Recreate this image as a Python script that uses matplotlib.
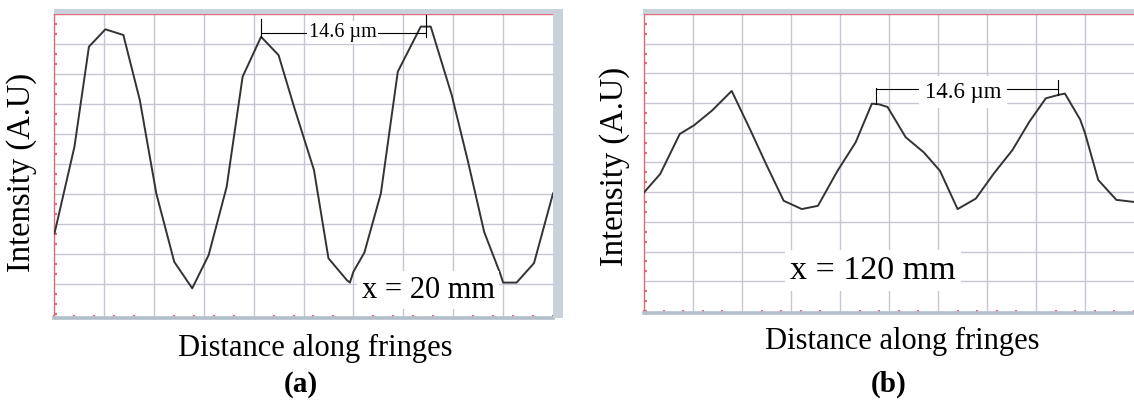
import matplotlib
matplotlib.use('Agg')
import matplotlib.pyplot as plt
from matplotlib.patches import Rectangle
from matplotlib.ticker import MultipleLocator

plt.rcParams['font.family'] = ['Liberation Serif', 'DejaVu Serif']

# ---------------- data ----------------
# Panel (a): x = 20 mm
xa = [0.01, 0.41, 0.70, 1.03, 1.39, 1.72, 2.05, 2.41, 2.77, 3.10, 3.46, 3.78,
      4.15, 4.50, 4.81, 5.21, 5.50, 5.87, 5.93, 6.00, 6.22, 6.55, 6.89, 7.35,
      7.55, 7.97, 8.29, 8.62, 8.94, 9.00, 9.27, 9.62, 10.0]
ya = [2.69, 5.58, 8.91, 9.49, 9.30, 7.13, 4.02, 1.74, 0.86, 1.97, 4.24, 7.91,
      9.24, 8.63, 6.91, 4.80, 1.86, 1.13, 1.05, 1.41, 2.05, 4.02, 8.08, 9.58,
      9.58, 7.30, 5.13, 2.74, 1.36, 1.05, 1.05, 1.70, 4.02]

# Panel (b): x = 120 mm
xb = [0.00, 0.33, 0.73, 1.02, 1.39, 1.79, 2.16, 2.49, 2.85, 3.22, 3.55, 3.95,
      4.32, 4.65, 4.79, 4.97, 5.34, 5.71, 6.04, 6.40, 6.77, 7.14, 7.52, 7.86,
      8.20, 8.47, 8.59, 8.90, 9.00, 9.27, 9.64, 10.0]
yb = [3.99, 4.61, 5.96, 6.25, 6.75, 7.41, 6.13, 4.95, 3.71, 3.43, 3.54, 4.72,
      5.68, 6.98, 6.96, 6.87, 5.85, 5.34, 4.72, 3.43, 3.78, 4.63, 5.42, 6.36,
      7.16, 7.28, 7.32, 6.45, 5.99, 4.41, 3.74, 3.67]

# Fringe-spacing annotation (peak positions and label)
peaks_a = [4.15, 7.45]
peaks_b = [4.73, 8.45]
spacing_label = "14.6 µm"
labels = ["x = 20 mm", "x = 120 mm"]

# ---------------- figure ----------------
W, H = 1134, 401
fig = plt.figure(figsize=(W / 100, H / 100), dpi=100)

RED = '#df6b78'
BAR = '#c9d1db'
GRID = '#c8c4d4'
LINE = '#333333'


def frac_box(x0, y0, x1, y1):
    return [x0 / W, 1 - y1 / H, (x1 - x0) / W, (y1 - y0) / H]


def setup(ax, ylo):
    ax.set_xlim(0, 10)
    ax.set_ylim(ylo, 10)
    ax.set_xticks(range(1, 10))
    ax.set_yticks(range(1, 10))
    ax.xaxis.set_minor_locator(MultipleLocator(0.4))
    ax.yaxis.set_minor_locator(MultipleLocator(1 / 3))
    ax.grid(True, which='major', color=GRID, lw=1.0)
    ax.tick_params(which='major', length=0, labelbottom=False, labelleft=False)
    ax.tick_params(which='minor', direction='in', length=2.2, width=1.6,
                   color=RED, top=False, right=False)
    ax.set_axisbelow(True)
    ax.spines['left'].set_color(RED)
    ax.spines['left'].set_linewidth(1.0)
    ax.spines['top'].set_color(RED)
    ax.spines['top'].set_linewidth(1.0)
    ax.spines['bottom'].set_color('#b4bfcc')
    ax.spines['bottom'].set_linewidth(2.6)
    ax.spines['right'].set_visible(False)


# Panel (a)
axa = fig.add_axes(frac_box(54, 14, 553, 318))
setup(axa, -0.13)
axa.plot(xa, ya, color=LINE, lw=1.4, zorder=3)
ytop_a = 9.38
axa.plot([peaks_a[0], peaks_a[0]], [9.24, 9.82], color='black', lw=0.8, zorder=4)
axa.plot([peaks_a[1], peaks_a[1]], [9.24, 9.97], color='black', lw=0.8, zorder=4)
axa.plot(peaks_a, [ytop_a, ytop_a], color='black', lw=0.8, zorder=4)
axa.text(5.78, ytop_a, spacing_label, fontsize=14.5, ha='center', va='center',
         zorder=5, bbox=dict(facecolor='white', edgecolor='none', pad=1.2))
axa.text(7.5, 0.80, labels[0], fontsize=22, ha='center', va='center', zorder=6,
         bbox=dict(facecolor='white', edgecolor='none', pad=3))

# gray frame bars of panel (a)
fig.add_artist(Rectangle((54 / W, 1 - 14 / H), (563 - 54) / W, 5 / H,
                         transform=fig.transFigure, color=BAR, lw=0))
fig.add_artist(Rectangle((553 / W, 1 - 318 / H), 10 / W, (318 - 9) / H,
                         transform=fig.transFigure, color=BAR, lw=0))

# Panel (b)
axb = fig.add_axes(frac_box(644, 14, 1134, 313))
setup(axb, -0.07)
axb.plot(xb, yb, color=LINE, lw=1.4, zorder=3)
ytop_b = 7.48
axb.plot([peaks_b[0], peaks_b[0]], [6.98, 7.52], color='black', lw=0.8, zorder=4)
axb.plot([peaks_b[1], peaks_b[1]], [7.27, 7.78], color='black', lw=0.8, zorder=4)
axb.plot(peaks_b, [ytop_b, ytop_b], color='black', lw=0.8, zorder=4)
axb.text(6.51, 7.36, spacing_label, fontsize=16.5, ha='center', va='center',
         zorder=5, bbox=dict(facecolor='white', edgecolor='none', pad=4))
axb.text(4.67, 1.36, labels[1], fontsize=24.5, ha='center', va='center', zorder=6,
         bbox=dict(facecolor='white', edgecolor='none', pad=4))

fig.add_artist(Rectangle((643 / W, 1 - 14 / H), (1134 - 643) / W, 5 / H,
                         transform=fig.transFigure, color=BAR, lw=0))

# Axis labels and panel captions
fig.text(315 / W, 1 - 348 / H, "Distance along fringes", fontsize=22,
         ha='center', va='center')
fig.text(902 / W, 1 - 341 / H, "Distance along fringes", fontsize=22,
         ha='center', va='center')
fig.text(22 / W, 1 - 172 / H, "Intensity (A.U)", fontsize=23.5, rotation=90,
         ha='center', va='center')
fig.text(615 / W, 1 - 166 / H, "Intensity (A.U)", fontsize=23.5, rotation=90,
         ha='center', va='center')
fig.text(301 / W, 1 - 385 / H, "(a)", fontsize=21, fontweight='bold',
         ha='center', va='center')
fig.text(889 / W, 1 - 384 / H, "(b)", fontsize=21, fontweight='bold',
         ha='center', va='center')

fig.savefig('out.png', dpi=100, facecolor='white')
